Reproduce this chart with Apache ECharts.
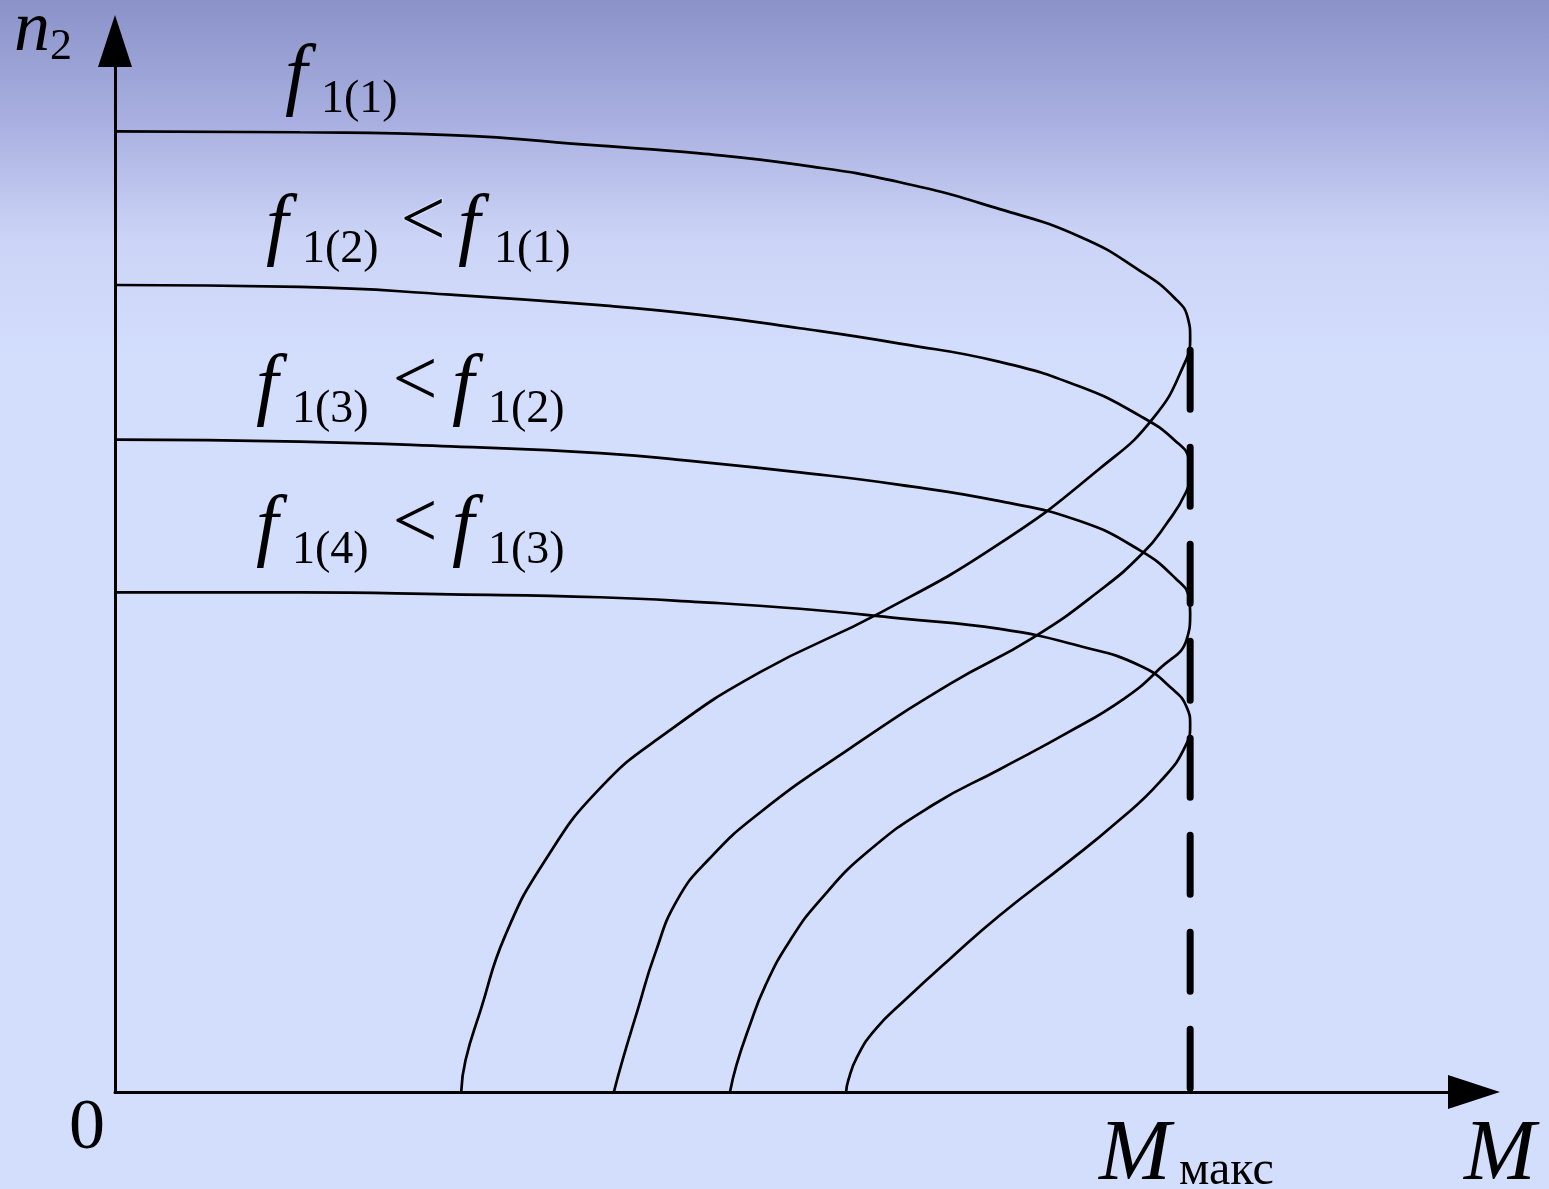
<!DOCTYPE html>
<html>
<head>
<meta charset="utf-8">
<script src="https://cdn.jsdelivr.net/npm/echarts@6/dist/echarts.min.js"></script>
<style>
  html, body { margin: 0; padding: 0; }
  #chart { width: 1549px; height: 1189px; }
</style>
</head>
<body>
<div id="chart"></div>
<script>
// M in % of M_max, n2 in % of the f1(1) no-load speed
const curveF1 = [[0,100],[17.2,99.9],[31.2,99.6],[45.1,98.5],[54.4,97.7],[63.7,96.5],[73.0,94.7],[82.3,91.9],[89.8,89.0],[95.3,85.5],[98.6,82.6],[99.8,80.5],[100,78.5],[99.5,75.9],[96.6,70.2],[91.6,64.9],[82.3,57.1],[71.2,49.9],[60.0,43.7],[51.3,37.4],[45.1,31.6],[40.0,24.1],[36.3,16.3],[34.0,8.5],[32.6,3.3],[32.2,0]];
const curveF2 = [[0,84.0],[17.2,83.8],[31.2,83.0],[45.1,81.9],[54.4,80.9],[63.7,79.5],[73.0,77.9],[82.3,76.0],[89.8,73.4],[95.3,70.4],[98.6,67.8],[99.9,65.8],[100,64.5],[99.6,62.4],[97.7,59.0],[95.6,56.1],[91.6,52.2],[85.4,47.3],[77.7,42.5],[68.4,35.8],[60.0,29.1],[55.3,24.3],[52.3,20.0],[50.2,14.3],[48.6,8.5],[47.2,3.3],[46.4,0]];
const curveF3 = [[0,67.9],[17.2,67.7],[31.2,67.2],[45.1,66.5],[54.4,65.6],[63.7,64.5],[73.0,63.2],[82.3,61.5],[89.8,59.4],[95.3,56.4],[98.6,53.5],[99.9,51.4],[100,49.9],[99.7,47.2],[97.2,44.1],[93.8,40.9],[88.6,37.4],[82.3,33.6],[76.1,29.9],[70.0,25.0],[65.6,20.0],[62.8,15.8],[60.5,11.1],[58.9,6.5],[57.8,2.8],[57.2,0]];
const curveF4 = [[0,52.0],[17.2,52.0],[31.2,51.8],[45.1,51.5],[54.4,51.0],[63.7,50.3],[73.0,49.3],[82.3,48.2],[89.8,46.4],[95.3,44.4],[98.3,42.0],[99.7,40.0],[100,38.2],[99.6,36.1],[97.2,32.3],[93.2,28.1],[88.6,23.9],[82.3,18.4],[77.7,13.9],[73.5,9.6],[70.7,6.5],[69.0,3.6],[68.2,1.2],[68.0,0]];
const maxLine = [[100,77.2],[100,0]];

const chart = echarts.init(document.getElementById('chart'));

const serif = '"Liberation Serif", "Times New Roman", serif';
function label(text, x, y, size, italic) {
  return {
    type: 'text', x: x, y: y, silent: true,
    style: {
      text: text, fill: '#000', align: 'left', verticalAlign: 'middle',
      font: (italic ? 'italic ' : '') + size + 'px ' + serif
    }
  };
}
// thin "<" sign
function less(x, y) {
  return {
    type: 'text', x: x, y: y, silent: true,
    style: {
      text: '<', fill: '#000', stroke: '#d3ddfc', lineWidth: 2.6,
      align: 'center', verticalAlign: 'middle', font: '80px ' + serif
    }
  };
}
// f with subscript, like f1(2)
function fSub(sub, x, base) {
  return [
    label('f', x, base - 22, 80, true),
    label(sub, x + 36, base - 1, 46, false)
  ];
}

function curve(data) {
  return {
    type: 'line', data: data, showSymbol: false, smooth: 0.5,
    lineStyle: { color: '#000', width: 2.7 }, silent: true
  };
}

const option = {
  animation: false,
  backgroundColor: new echarts.graphic.LinearGradient(0, 0, 0, 1, [
    { offset: 0, color: '#8a92c8' },
    { offset: 0.1, color: '#a8afe0' },
    { offset: 0.2, color: '#cbd4f6' },
    { offset: 0.3, color: '#d3ddfc' },
    { offset: 1, color: '#d3ddfc' }
  ]),
  grid: { left: 115, right: 75, top: 41, bottom: 97 },
  xAxis: {
    type: 'value', min: 0, max: 126.4,
    axisLine: { lineStyle: { color: '#000', width: 3 }, symbol: ['none', 'triangle'], symbolSize: [34, 52] },
    axisTick: { show: false }, axisLabel: { show: false }, splitLine: { show: false }
  },
  yAxis: {
    type: 'value', min: 0, max: 109.4,
    axisLine: { show: true, lineStyle: { color: '#000', width: 3 }, symbol: ['none', 'triangle'], symbolSize: [34, 52] },
    axisTick: { show: false }, axisLabel: { show: false }, splitLine: { show: false }
  },
  series: [
    curve(curveF1), curve(curveF2), curve(curveF3), curve(curveF4),
    {
      type: 'line', data: maxLine, showSymbol: false, silent: true,
      lineStyle: { color: '#000', width: 7, type: [59, 38], cap: 'round' }
    }
  ],
  graphic: [
    label('n', 14, 31, 72, true),
    label('2', 50, 47, 44, false),
    label('0', 69, 1129, 72, false),
    label('M', 1464, 1156, 86, true),
    label('M', 1099, 1156, 86, true),
    label('макс', 1179, 1171, 48, false)
  ]
    .concat(fSub('1(1)', 285, 101))
    .concat(fSub('1(2)', 266, 251), [less(423, 224)], fSub('1(1)', 458, 251))
    .concat(fSub('1(3)', 256, 411), [less(415, 384)], fSub('1(2)', 452, 411))
    .concat(fSub('1(4)', 256, 552), [less(415, 526)], fSub('1(3)', 452, 552))
};

chart.setOption(option);
</script>
</body>
</html>
